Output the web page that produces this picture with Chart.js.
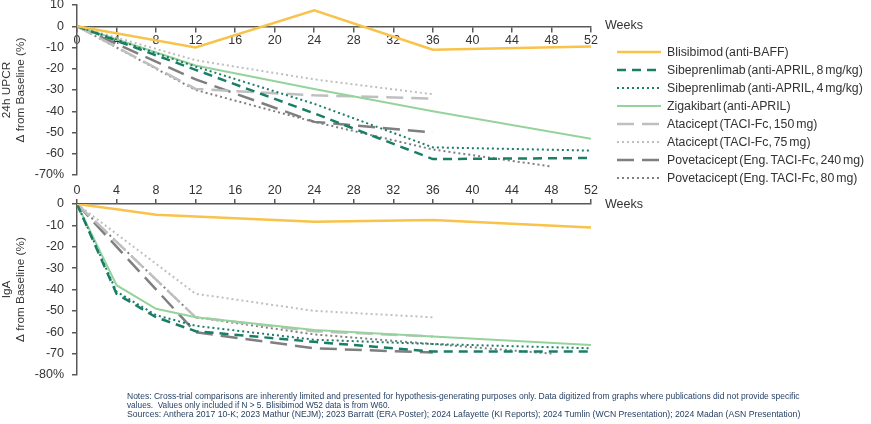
<!DOCTYPE html>
<html>
<head>
<meta charset="utf-8">
<script src="https://cdn.jsdelivr.net/npm/chart.js@4.4.1/dist/chart.umd.min.js"></script>
<style>
  body { margin: 0; width: 871px; height: 424px; background: #fff; position: relative; overflow: hidden;
         font-family: "Liberation Sans", Arial, sans-serif; color: #333; }
  canvas { position: absolute; left: 0; }
  #upcr { top: -10px; }
  #iga { top: 180px; }
  .weeks { position: absolute; left: 605px; font-size: 12.5px; line-height: 14px; }
  #legend { position: absolute; left: 617px; top: 43px; }
  .row { height: 18px; display: flex; align-items: center; font-size: 12.3px; word-spacing: -1.5px; white-space: nowrap; }
  .row svg { margin-right: 6px; }
  .note { position: absolute; left: 127px; font-size: 8.6px; line-height: 9px; color: #1F3A5F;
          white-space: nowrap; transform-origin: 0 0; }
</style>
</head>
<body>
<canvas id="upcr" width="871" height="195"></canvas>
<canvas id="iga" width="871" height="205"></canvas>
<div class="weeks" style="top:18px">Weeks</div>
<div class="weeks" style="top:197px">Weeks</div>
<div id="legend"></div>
<div class="note" style="top:392px" data-w="673">Notes: Cross-trial comparisons are inherently limited and presented for hypothesis-generating purposes only. Data digitized from graphs where publications did not provide specific</div>
<div class="note" style="top:401px" data-w="263">values.&nbsp; Values only included if N &gt; 5. Blisibimod W52 data is from W60.</div>
<div class="note" style="top:410px" data-w="673">Sources: Anthera 2017 10-K; 2023 Mathur (NEJM); 2023 Barratt (ERA Poster); 2024 Lafayette (KI Reports); 2024 Tumlin (WCN Presentation); 2024 Madan (ASN Presentation)</div>
<script>
// series names
const names = [
  'Blisibimod (anti-BAFF)',
  'Sibeprenlimab (anti-APRIL, 8 mg/kg)',
  'Sibeprenlimab (anti-APRIL, 4 mg/kg)',
  'Zigakibart (anti-APRIL)',
  'Atacicept (TACI-Fc, 150 mg)',
  'Atacicept (TACI-Fc, 75 mg)',
  'Povetacicept (Eng. TACI-Fc, 240 mg)',
  'Povetacicept (Eng. TACI-Fc, 80 mg)'
];

// 24h UPCR, % change from baseline
const blisUpcrWeeks = [0, 12, 24, 36, 52];
const blisUpcr      = [0, -10, 7.5, -11, -9.5];
const sib8UpcrWeeks = [0, 12, 24, 36, 52];
const sib8Upcr      = [0, -20.5, -41, -62.5, -62];
const sib4UpcrWeeks = [0, 12, 24, 36, 52];
const sib4Upcr      = [0, -19, -36.5, -57, -58.5];
const zigUpcrWeeks  = [0, 12, 24, 36, 52];
const zigUpcr       = [0, -18.5, -29.5, -40, -53];
const ata150UpcrWeeks = [0, 12, 24, 36];
const ata150Upcr      = [0, -29.5, -32.5, -34];
const ata75UpcrWeeks  = [0, 12, 24, 36];
const ata75Upcr       = [0, -16, -25, -32];
const pov240UpcrWeeks = [0, 12, 24, 36];
const pov240Upcr      = [0, -25, -45, -50];
const pov80UpcrWeeks  = [0, 12, 24, 36, 48];
const pov80Upcr       = [0, -30, -45, -58, -66];

// IgA, % change from baseline
const blisIgaWeeks = [0, 4, 8, 24, 36, 52];
const blisIga      = [0, -2.5, -5, -8.3, -7.5, -11];
const sib8IgaWeeks = [0, 4, 8, 12, 24, 36, 52];
const sib8Iga      = [0, -42, -53, -59.5, -64.5, -69, -69];
const sib4IgaWeeks = [0, 4, 8, 12, 24, 36, 52];
const sib4Iga      = [0, -41, -52, -57, -63.5, -65.5, -67.5];
const zigIgaWeeks  = [0, 4, 8, 12, 24, 36, 52];
const zigIga       = [0, -38, -49, -53, -59, -62, -66];
const ata150IgaWeeks = [0, 12, 24, 36];
const ata150Iga      = [0, -53, -59.5, -62];
const ata75IgaWeeks  = [0, 12, 24, 36];
const ata75Iga       = [0, -42, -50, -53];
const pov240IgaWeeks = [0, 12, 24, 36];
const pov240Iga      = [0, -60, -67.5, -69.5];
const pov80IgaWeeks  = [0, 12, 24, 36, 48];
const pov80Iga       = [0, -53, -61, -65.5, -70];

const styles = [
  { color: '#F9C24A', width: 2.5, dash: [] },
  { color: '#1A7D66', width: 2.5, dash: [9, 6] },
  { color: '#1A7D66', width: 2, dash: [2, 3] },
  { color: '#96D39C', width: 2, dash: [] },
  { color: '#BFBFBF', width: 2.5, dash: [17, 8] },
  { color: '#BFBFBF', width: 2, dash: [2, 3] },
  { color: '#7F7F7F', width: 2.5, dash: [17, 8] },
  { color: '#7F7F7F', width: 2, dash: [2, 3] }
];

function pts(weeks, vals) {
  return weeks.map((w, i) => ({ x: w, y: vals[i] }));
}

function makeSets(series) {
  return series.map((s, i) => ({
    label: names[i],
    data: pts(s[0], s[1]),
    borderColor: styles[i].color,
    borderWidth: styles[i].width,
    borderDash: styles[i].dash,
    pointRadius: 0,
    tension: 0,
    fill: false
  }));
}

const axisColor = '#595959';
const tickFont = { family: 'Liberation Sans', size: 12.5 };

function yAxis(min, max, title) {
  return {
    min: min, max: max,
    border: { color: axisColor, width: 1.5 },
    grid: { drawOnChartArea: false, tickLength: 5, color: axisColor, lineWidth: 1.5 },
    ticks: {
      stepSize: 10, color: '#333', font: tickFont, padding: 8,
      callback: v => v === min ? v + '%' : v
    },
    title: { display: true, text: title, color: '#333', font: { family: 'Liberation Sans', size: 11.8, lineHeight: 1.15 }, padding: 0 },
    // fixed width, and let the layout padding alone decide the vertical room
    afterFit: s => { s.width = 77; s.paddingTop = 0; s.paddingBottom = 0; }
  };
}

function xAxis(position, h, pad) {
  return {
    type: 'linear', min: 0, max: 52, position: position,
    border: { color: axisColor, width: 1.5 },
    grid: { drawOnChartArea: false, tickLength: 5, color: axisColor, lineWidth: 1.5 },
    ticks: { stepSize: 4, color: '#333', font: tickFont, padding: pad, maxRotation: 0 },
    afterFit: s => { s.height = h; }
  };
}

const commonPlugins = { legend: { display: false }, tooltip: { enabled: false } };

new Chart(document.getElementById('upcr'), {
  type: 'line',
  data: { datasets: makeSets([
    [blisUpcrWeeks, blisUpcr], [sib8UpcrWeeks, sib8Upcr], [sib4UpcrWeeks, sib4Upcr], [zigUpcrWeeks, zigUpcr],
    [ata150UpcrWeeks, ata150Upcr], [ata75UpcrWeeks, ata75Upcr], [pov240UpcrWeeks, pov240Upcr], [pov80UpcrWeeks, pov80Upcr]
  ]) },
  options: {
    responsive: false, animation: false,
    layout: { padding: { top: 15, bottom: 10, left: 0, right: 280 } },
    plugins: commonPlugins,
    scales: {
      x: xAxis({ y: 0 }, 0, 2),
      y: yAxis(-70, 10, ['24h UPCR', 'Δ from Baseline (%)'])
    }
  }
});

new Chart(document.getElementById('iga'), {
  type: 'line',
  data: { datasets: makeSets([
    [blisIgaWeeks, blisIga], [sib8IgaWeeks, sib8Iga], [sib4IgaWeeks, sib4Iga], [zigIgaWeeks, zigIga],
    [ata150IgaWeeks, ata150Iga], [ata75IgaWeeks, ata75Iga], [pov240IgaWeeks, pov240Iga], [pov80IgaWeeks, pov80Iga]
  ]) },
  options: {
    responsive: false, animation: false,
    layout: { padding: { top: 0, bottom: 10, left: 0, right: 280 } },
    plugins: commonPlugins,
    scales: {
      x: xAxis('top', 24, 1),
      y: yAxis(-80, 0, ['IgA', 'Δ from Baseline (%)'])
    }
  }
});

// legend
const legend = document.getElementById('legend');
names.forEach((n, i) => {
  const st = styles[i];
  const row = document.createElement('div');
  row.className = 'row';
  row.innerHTML = '<svg width="44" height="6"><line x1="0" y1="3" x2="44" y2="3" stroke="' + st.color +
    '" stroke-width="' + st.width + '" stroke-dasharray="' + (st.dash.length ? st.dash.join(' ') : 'none') +
    '"/></svg><span>' + n + '</span>';
  legend.appendChild(row);
});

// squeeze the note lines to the widths used in the source
document.querySelectorAll('.note').forEach(el => {
  const target = +el.dataset.w;
  const w = el.scrollWidth;
  el.style.transform = 'scaleX(' + (target / w) + ')';
});
</script>
</body>
</html>
